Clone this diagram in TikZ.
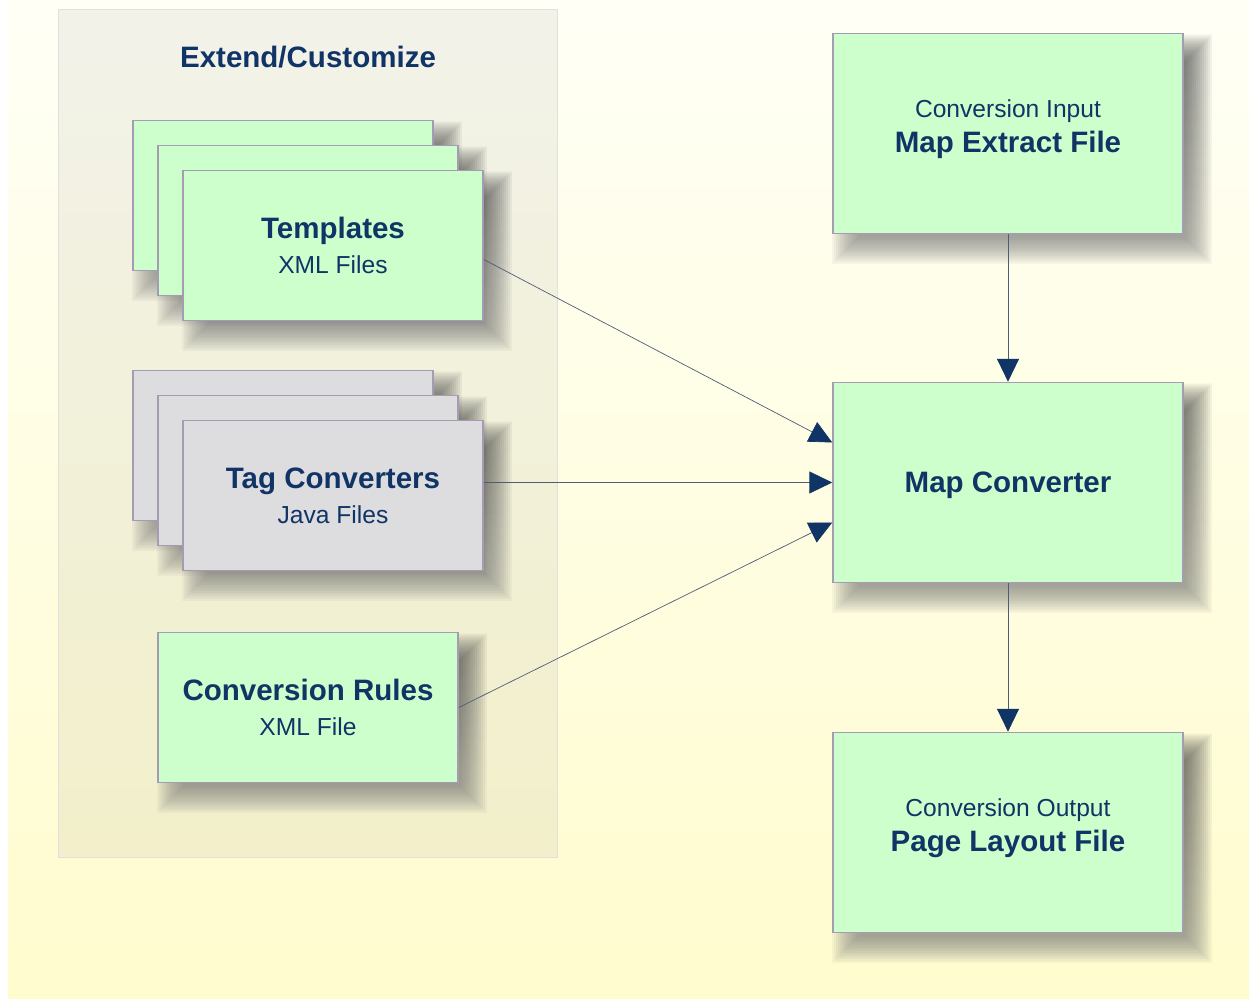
\documentclass[tikz,border=0pt]{standalone}
\usepackage{fontspec}
\setmainfont{Liberation Sans}
\usetikzlibrary{
  calc,
  positioning,
  arrows.meta}

\definecolor{cardgreen}{RGB}{204,255,204}
\definecolor{cardgrey}{RGB}{221,221,223}
\definecolor{cardline}{RGB}{165,155,178}
\definecolor{navy}{RGB}{16,52,102}
\definecolor{wire}{RGB}{78,92,120}
\definecolor{shade}{RGB}{160,100,20}

\pgfdeclarelayer{back}
\pgfdeclarelayer{shadow}
\pgfsetlayers{back,shadow,main}

\newcommand{\titlefont}{\fontsize{16.8}{20}\bfseries\selectfont}
\newcommand{\subfont}{\fontsize{14}{20}\selectfont}
% soft shadow behind a card
\newcommand{\castshadow}[1]{%
  \foreach \e in {-12,-10,...,14}
    \fill[shade,opacity=0.035]
      ($(#1.north west)+(14-\e,16-\e)$) rectangle ($(#1.south east)+(14+\e,16+\e)$);}

\begin{document}
\begin{tikzpicture}[
  x=0.02cm,y=-0.02cm,
  >={Triangle[length=13pt,width=12.5pt,color=navy]},
  line width=1.2pt,
  every node/.style={text=navy,align=center,font=\subfont,inner sep=0pt},
  card/.style={draw=cardline,line width=0.9pt,fill=cardgreen,
    minimum width=6cm,minimum height=3cm},
  greycard/.style={card,fill=cardgrey},
  bigcard/.style={card,minimum width=7cm,minimum height=4cm},
  group/.style={draw=black!12,line width=0.6pt,fill=black!70,fill opacity=0.07,
    minimum width=10cm,minimum height=16.98cm}
]%
  % background
  \begin{pgfonlayer}{back}
    \fill[white] (0,0) rectangle (1249,999);
    \shade[top color={rgb,255:red,255;green,255;blue,246},
           bottom color={rgb,255:red,255;green,252;blue,206}]
      (8,0) rectangle (1249,999);
    \node[group] (grp) at (308,433.5) {};
  \end{pgfonlayer}
  \useasboundingbox (0,0) rectangle (1249,999);

  % left group
  \node[font=\titlefont] (grptitle) at (308,57) {Extend/Customize};

  \node[card] (tplA) at (283,195.5) {};
  \node[card] (tplB) at ($(tplA)+(25,25)$) {};
  \node[card] (tplC) at ($(tplB)+(25,25)$) {{\titlefont Templates}\\XML Files};

  \node[greycard] (tagA) at (283,445.5) {};
  \node[greycard] (tagB) at ($(tagA)+(25,25)$) {};
  \node[greycard] (tagC) at ($(tagB)+(25,25)$) {{\titlefont Tag Converters}\\Java Files};

  \node[card] (rules) at (308,707.5) {{\titlefont Conversion Rules}\\XML File};

  % right column
  \node[bigcard,text depth=8pt] (extract) at (1008,133.5) {Conversion Input\\{\titlefont Map Extract File}};
  \node[bigcard,text depth=0pt] (mapconv) at (1008,482.5) {{\titlefont Map Converter}};
  \node[bigcard,text depth=8pt] (layout)  at (1008,832.5) {Conversion Output\\{\titlefont Page Layout File}};

  \begin{pgfonlayer}{shadow}
    \foreach \n in {tplA,tplB,tplC,tagA,tagB,tagC,rules,extract,mapconv,layout}
      {\castshadow{\n}}
  \end{pgfonlayer}

  \draw[->,wire] ($(tplC.east)+(0,14)$) -- ($(mapconv.west)+(0,-40)$);
  \draw[->,wire] ($(tagC.east)+(0,-13)$) -- (mapconv.west);
  \draw[->,wire] (rules.east) -- ($(mapconv.west)+(0,40)$);
  \draw[->,wire] (extract.south) -- (mapconv.north);
  \draw[->,wire] (mapconv.south) -- (layout.north);

\end{tikzpicture}
\end{document}
